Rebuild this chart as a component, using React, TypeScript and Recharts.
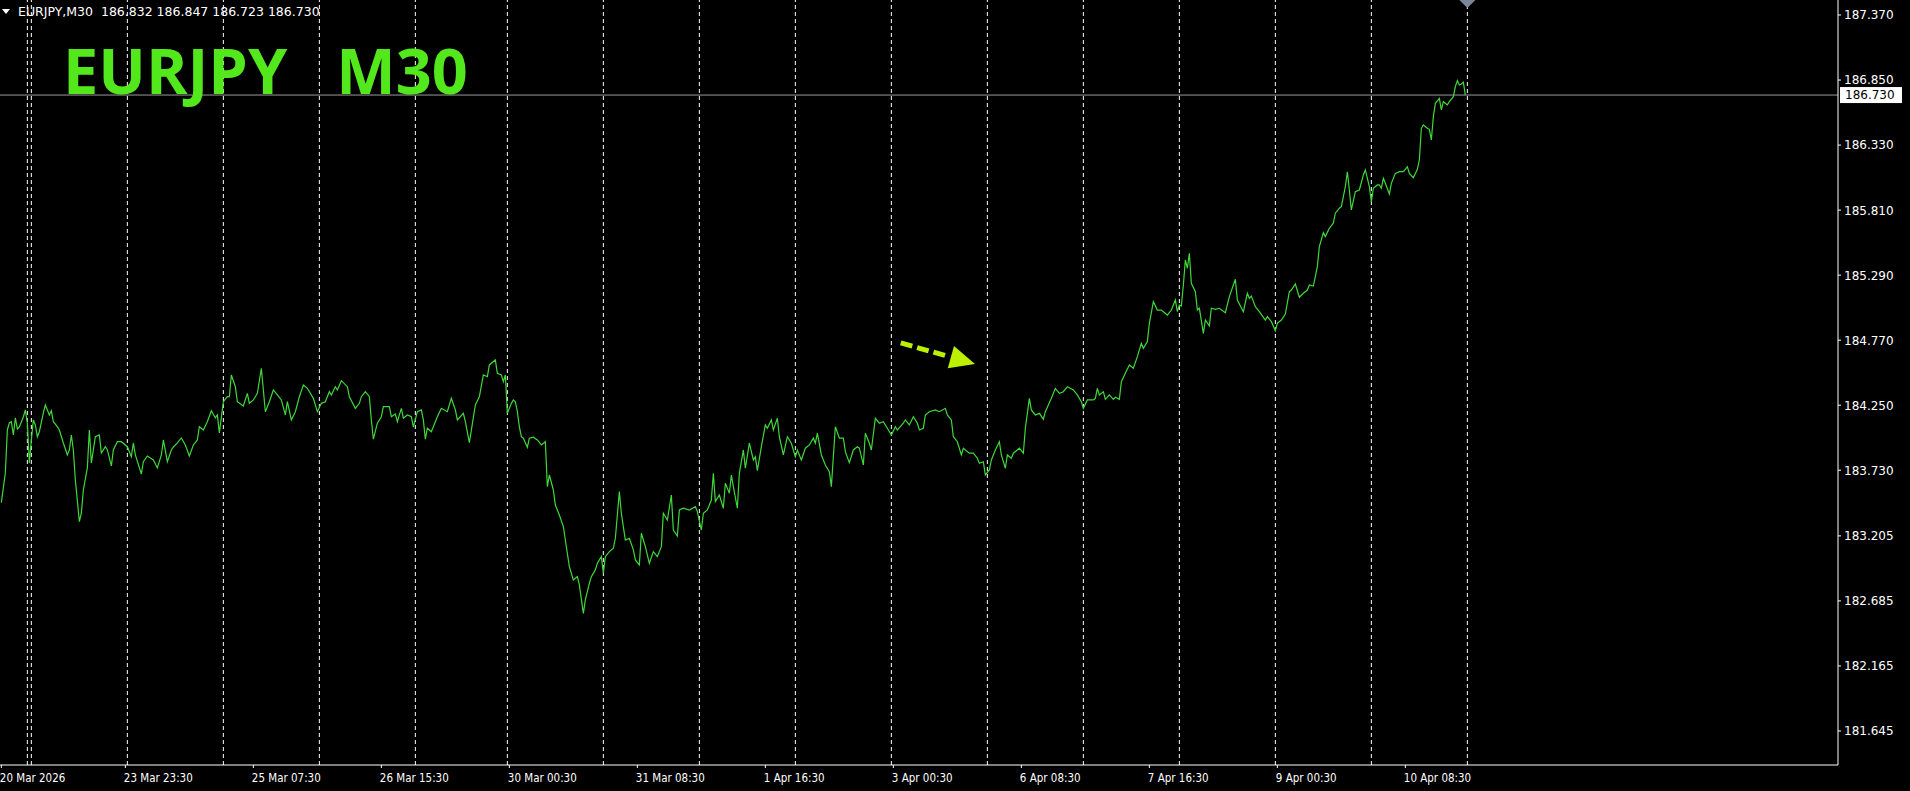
import { LineChart, Line, XAxis, YAxis, ReferenceLine, ReferenceDot } from 'recharts';

const headerText = 'EURJPY,M30  186.832 186.847 186.723 186.730';
const titleText = 'EURJPY   M30';
const lastPrice = 186.73;

// bar index (2px per M30 bar) and close price
const bars = [
  0, 2, 3, 4, 5, 6, 7, 8, 9, 11, 12, 13, 14, 15, 16, 17, 18, 19, 21, 22, 24, 25, 26, 28, 29, 31, 33, 34, 35, 36,
  37, 39, 40, 41, 43, 44, 45, 47, 49, 50, 52, 53, 55, 56, 58, 60, 63, 65, 66, 67, 70, 71, 73, 76, 78, 80, 81, 83, 85, 86,
  88, 90, 92, 94, 96, 98, 99, 101, 103, 105, 107, 108, 109, 111, 113, 114, 115, 117, 118, 121, 123, 124, 126, 128, 130, 132, 134, 136, 138, 140,
  142, 143, 145, 147, 149, 151, 153, 156, 158, 160, 162, 164, 165, 167, 168, 170, 173, 174, 177, 179, 180, 182, 184, 185, 186, 188, 190, 191, 193, 194,
  195, 197, 198, 200, 201, 203, 205, 206, 208, 210, 211, 212, 213, 215, 217, 218, 220, 223, 225, 227, 228, 231, 232, 234, 237, 239, 241, 243, 244, 247,
  248, 250, 251, 252, 253, 255, 256, 257, 258, 259, 260, 261, 263, 264, 266, 268, 270, 272, 273, 274, 276, 277, 279, 281, 282, 284, 286, 288, 289, 291,
  292, 294, 295, 297, 298, 300, 301, 302, 304, 306, 307, 309, 310, 312, 314, 316, 317, 319, 320, 322, 324, 326, 328, 330, 331, 333, 335, 336, 338, 339,
  341, 344, 347, 348, 350, 351, 353, 355, 356, 357, 359, 361, 362, 364, 365, 366, 368, 369, 371, 372, 374, 376, 377, 378, 380, 382, 383, 385, 386, 388,
  389, 391, 393, 395, 397, 398, 400, 402, 404, 406, 407, 408, 410, 412, 414, 415, 417, 419, 421, 422, 424, 426, 428, 429, 431, 432, 434, 435, 437, 439,
  441, 443, 445, 447, 448, 451, 452, 454, 456, 458, 459, 461, 462, 464, 467, 469, 472, 473, 475, 476, 478, 480, 481, 484, 486, 488, 489, 491, 492, 494,
  495, 497, 499, 500, 502, 503, 505, 506, 509, 511, 512, 514, 515, 517, 519, 521, 522, 525, 527, 529, 531, 533, 536, 538, 540, 541, 543, 546, 547, 548,
  549, 551, 552, 554, 556, 557, 559, 560, 562, 564, 566, 568, 570, 571, 573, 574, 576, 578, 580, 583, 585, 587, 588, 589, 590, 591, 592, 593, 594, 595,
  597, 598, 599, 601, 602, 604, 605, 607, 609, 612, 614, 617, 618, 621, 623, 624, 625, 627, 629, 632, 633, 635, 637, 638, 640, 642, 644, 645, 647, 649,
  651, 653, 654, 656, 658, 659, 661, 662, 664, 666, 667, 669, 670, 672, 673, 674, 675, 677, 679, 681, 682, 684, 685, 686, 688, 689, 690, 691, 692, 694,
  695, 697, 699, 701, 703, 704, 706, 708, 709, 710, 711, 713, 714, 715, 716, 717, 719, 720, 721, 723, 724, 726, 727, 728, 729, 730, 731, 732,
];

const closes = [
  183.471, 183.708, 184.052, 184.108, 184.118, 184.012, 184.148, 184.06, 184.076, 184.156, 184.212, 184.108, 183.788, 183.972, 184.132, 184.092, 183.998, 184.038, 184.188, 184.252, 184.172, 184.206, 184.118, 184.078, 184.052, 183.948, 183.852, 183.892, 184.012, 183.892,
  183.652, 183.319, 183.388, 183.572, 183.748, 184.052, 183.788, 183.998, 184.012, 183.868, 183.918, 183.892, 183.764, 183.892, 183.958, 183.958, 183.918, 183.838, 183.948, 183.852, 183.7, 183.798, 183.844, 183.812, 183.748, 183.852, 183.972, 183.798, 183.892, 183.916,
  183.948, 183.988, 183.932, 183.844, 183.932, 183.972, 184.078, 184.052, 184.118, 184.206, 184.148, 184.172, 184.028, 184.278, 184.318, 184.318, 184.492, 184.398, 184.278, 184.244, 184.345, 184.265, 184.292, 184.345, 184.545, 184.198, 184.278, 184.372, 184.332, 184.292,
  184.172, 184.278, 184.132, 184.198, 184.318, 184.412, 184.385, 184.305, 184.198, 184.265, 184.278, 184.358, 184.332, 184.398, 184.372, 184.446, 184.398, 184.318, 184.225, 184.265, 184.318, 184.358, 184.318, 184.132, 183.978, 184.106, 184.158, 184.238, 184.238, 184.238,
  184.158, 184.18, 184.118, 184.225, 184.146, 184.172, 184.158, 184.074, 184.198, 184.212, 184.132, 183.978, 184.066, 184.038, 184.118, 184.158, 184.225, 184.198, 184.305, 184.212, 184.132, 184.185, 184.118, 183.95, 184.252, 184.318, 184.492, 184.478, 184.572, 184.612,
  184.505, 184.492, 184.438, 184.492, 184.185, 184.265, 184.292, 184.278, 184.198, 184.078, 183.998, 183.986, 183.914, 183.986, 183.994, 183.972, 183.932, 183.958, 183.599, 183.692, 183.572, 183.452, 183.372, 183.279, 183.172, 182.959, 182.853, 182.879, 182.813, 182.586,
  182.693, 182.826, 182.879, 182.933, 182.986, 183.039, 182.906, 183.039, 183.079, 183.106, 183.186, 183.559, 183.386, 183.172, 183.186, 183.093, 183.013, 182.973, 183.226, 183.119, 182.986, 183.079, 183.039, 183.119, 183.386, 183.332, 183.532, 183.252, 183.204, 183.412,
  183.426, 183.412, 183.439, 183.399, 183.252, 183.386, 183.412, 183.492, 183.706, 183.479, 183.532, 183.426, 183.626, 183.546, 183.692, 183.599, 183.426, 183.706, 183.892, 183.746, 183.946, 183.812, 183.838, 183.727, 183.918, 184.092, 184.066, 184.132, 184.052, 184.146,
  183.998, 183.852, 183.998, 183.946, 183.838, 183.892, 183.812, 183.906, 183.932, 183.986, 183.946, 184.026, 183.852, 183.772, 183.719, 183.599, 184.078, 183.986, 183.986, 183.879, 183.791, 183.892, 183.918, 183.906, 183.772, 184.026, 183.946, 183.892, 184.146, 184.106,
  184.118, 184.066, 184.012, 184.078, 184.052, 184.106, 184.132, 184.092, 184.158, 184.106, 184.052, 184.066, 184.172, 184.198, 184.212, 184.198, 184.225, 184.172, 184.132, 183.998, 183.958, 183.852, 183.906, 183.866, 183.866, 183.826, 183.786, 183.798, 183.692, 183.732,
  183.812, 183.892, 183.958, 183.852, 183.746, 183.852, 183.826, 183.866, 183.906, 183.866, 184.066, 184.305, 184.212, 184.172, 184.185, 184.138, 184.198, 184.305, 184.385, 184.345, 184.358, 184.398, 184.372, 184.332, 184.278, 184.225, 184.292, 184.292, 184.305, 184.385,
  184.332, 184.358, 184.297, 184.332, 184.297, 184.313, 184.297, 184.438, 184.505, 184.572, 184.545, 184.638, 184.745, 184.705, 184.758, 184.905, 185.078, 185.011, 185.011, 184.971, 185.011, 185.091, 184.998, 185.051, 185.043, 185.211, 185.411, 185.345, 185.465, 185.225,
  185.158, 185.011, 185.025, 184.825, 184.931, 184.884, 185.025, 185.017, 185.025, 184.99, 185.118, 185.257, 185.091, 184.998, 185.145, 185.105, 185.123, 185.038, 184.998, 184.931, 184.958, 184.918, 184.846, 184.905, 184.931, 184.979, 185.158, 185.171, 185.219, 185.113,
  185.145, 185.171, 185.211, 185.203, 185.358, 185.518, 185.63, 185.598, 185.665, 185.705, 185.785, 185.825, 185.837, 185.997, 186.117, 185.971, 185.811, 185.957, 185.971, 186.091, 186.131, 185.997, 185.877, 185.985, 186.011, 186.011, 185.985, 186.064, 186.024, 185.939,
  186.024, 186.104, 186.117, 186.117, 186.157, 186.104, 186.069, 186.136, 186.211, 186.464, 186.491, 186.464, 186.456, 186.371, 186.557, 186.664, 186.704, 186.611, 186.677, 186.651, 186.677, 186.717, 186.797, 186.845, 186.81, 186.818, 186.832, 186.73,
];

const yTicks = [187.37, 186.85, 186.33, 185.81, 185.29, 184.77, 184.25, 183.73, 183.205, 182.685, 182.165, 181.645];
const xTickBars = [0, 62, 126, 190, 254, 318, 382, 446, 510, 574, 638, 702];
const xTickLabels = [
  '20 Mar 2026', '23 Mar 23:30', '25 Mar 07:30', '26 Mar 15:30', '30 Mar 00:30', '31 Mar 08:30',
  '1 Apr 16:30', '3 Apr 00:30', '6 Apr 08:30', '7 Apr 16:30', '9 Apr 00:30', '10 Apr 08:30',
];
// day separators
const separatorBars = [13, 15, 63, 111, 159, 207, 253, 301, 349, 397, 445, 493, 541, 589, 637, 685, 733];
const shiftBar = 733;
const arrowFrom = { bar: 449.7, price: 184.748 };
const arrowTo = { bar: 486.8, price: 184.58 };

const xDomain = [-0.675, 918.325];
const yDomain = [181.373, 187.49];

const data = bars.map((b, i) => ({ bar: b, close: closes[i] }));

const XTick = (props: any) => {
  const { x, y, payload } = props;
  const idx = xTickBars.indexOf(payload.value);
  return (
    <text
      transform={`translate(${x - 1.5},${y + 14}) scale(0.86,1)`}
      fill="#ffffff"
      fontSize={12}
      fontFamily="DejaVu Sans"
    >
      {xTickLabels[idx]}
    </text>
  );
};

const YTick = (props: any) => {
  const { x, y, payload } = props;
  return (
    <text x={x} y={y + 4.4} fill="#ffffff" fontSize={12} fontFamily="DejaVu Sans">
      {Number(payload.value).toFixed(3)}
    </text>
  );
};

const PriceLineShape = (p: any) => {
  const right = Math.max(p.x1, p.x2);
  return (
    <g>
      <line x1={p.x1} y1={p.y1} x2={p.x2} y2={p.y2} stroke="#9a9a9a" strokeWidth={1} />
      <rect x={right + 2} y={p.y1 - 8} width={62} height={16} fill="#ffffff" />
      <text x={right + 7} y={p.y1 + 4.4} fill="#000000" fontSize={12} fontFamily="DejaVu Sans">
        {lastPrice.toFixed(3)}
      </text>
    </g>
  );
};

const ArrowShape = (p: any) => {
  const dx = p.x2 - p.x1;
  const dy = p.y2 - p.y1;
  const len = Math.sqrt(dx * dx + dy * dy);
  const ux = dx / len;
  const uy = dy / len;
  const head = 25;
  const half = 11.5;
  const bx = p.x2 - ux * head;
  const by = p.y2 - uy * head;
  const lineEnd = len - head - 4;
  return (
    <g>
      <line
        x1={p.x1}
        y1={p.y1}
        x2={p.x1 + ux * lineEnd}
        y2={p.y1 + uy * lineEnd}
        stroke="#bdf000"
        strokeWidth={5}
        strokeDasharray="12 5"
      />
      <polygon
        points={`${p.x2},${p.y2} ${bx - uy * half},${by + ux * half} ${bx + uy * half},${by - ux * half}`}
        fill="#bdf000"
      />
    </g>
  );
};

const ShiftMarker = (p: any) => (
  <polygon points={`${p.cx - 8},${p.cy} ${p.cx + 8},${p.cy} ${p.cx},${p.cy + 8}`} fill="#7a8799" />
);

export default function App() {
  return (
    <div style={{ position: 'relative', width: 1910, height: 791, background: '#000000' }}>
      <style>{'body{margin:0;background:#000;}'}</style>
      <LineChart width={1910} height={791} data={data} margin={{ top: 0, right: 0, bottom: 0, left: 0 }}>
        {separatorBars.map((b) => (
          <ReferenceLine key={b} x={b} stroke="#ffffff" strokeWidth={1} strokeDasharray="4 3" />
        ))}
        <XAxis
          dataKey="bar"
          type="number"
          domain={xDomain}
          allowDataOverflow
          ticks={xTickBars}
          interval={0}
          height={26}
          tickSize={3}
          tickMargin={0}
          stroke="#ffffff"
          tick={<XTick />}
        />
        <YAxis
          orientation="right"
          type="number"
          domain={yDomain}
          allowDataOverflow
          ticks={yTicks}
          interval={0}
          width={72}
          tickSize={3}
          tickMargin={3}
          stroke="#ffffff"
          tick={<YTick />}
        />
        <ReferenceLine y={lastPrice} shape={PriceLineShape} />
        <Line
          type="linear"
          dataKey="close"
          stroke="#3fd83a"
          strokeWidth={1.2}
          dot={false}
          activeDot={false}
          isAnimationActive={false}
        />
        <ReferenceLine
          segment={[
            { x: arrowFrom.bar, y: arrowFrom.price },
            { x: arrowTo.bar, y: arrowTo.price },
          ]}
          shape={ArrowShape}
        />
        <ReferenceDot x={shiftBar} y={yDomain[1]} r={8} shape={ShiftMarker} />
      </LineChart>
      <svg width={1910} height={120} style={{ position: 'absolute', left: 0, top: 0, pointerEvents: 'none' }}>
        <polygon points="2,9 10,9 6,14" fill="#ffffff" />
        <text x={18} y={16} fill="#ffffff" fontSize={12.5} fontFamily="DejaVu Sans" style={{ whiteSpace: 'pre' }}>
          {headerText}
        </text>
        <text
          x={63}
          y={94}
          fill="#52e81c"
          fontSize={63}
          fontWeight={700}
          fontFamily="Open Sans"
          style={{ whiteSpace: 'pre' }}
        >
          {titleText}
        </text>
      </svg>
    </div>
  );
}
